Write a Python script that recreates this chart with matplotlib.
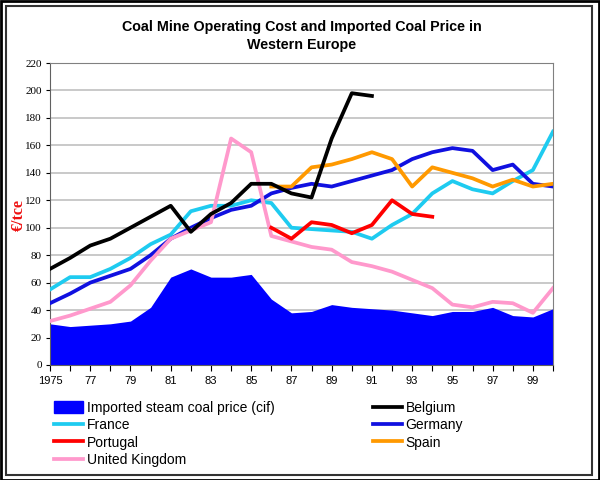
import matplotlib
matplotlib.use("Agg")
import matplotlib.pyplot as plt
from matplotlib.patches import Rectangle

years = list(range(1975, 2001))
imported = [30, 28, 29, 30, 32, 42, 64, 70, 64, 64, 66, 48, 38, 39, 44, 42, 41, 40, 38, 36, 39, 39, 42, 36, 35, 41]

belgium_years = list(range(1975, 1992))
belgium = [70, 78, 87, 92, 100, 108, 116, 97, 110, 118, 132, 132, 125, 122, 165, 198, 196]

france = [55, 64, 64, 70, 78, 88, 95, 112, 116, 116, 120, 118, 100, 99, 98, 97, 92, 102, 110, 125, 134, 128, 125, 134, 142, 170]

germany = [45, 52, 60, 65, 70, 80, 92, 100, 107, 113, 116, 125, 129, 132, 130, 134, 138, 142, 150, 155, 158, 156, 142, 146, 132, 130]

portugal_years = list(range(1986, 1995))
portugal = [100, 92, 104, 102, 96, 102, 120, 110, 108]

spain_years = list(range(1986, 2001))
spain = [130, 130, 144, 146, 150, 155, 150, 130, 144, 140, 136, 130, 135, 130, 132]

uk = [32, 36, 41, 46, 58, 76, 92, 98, 104, 165, 155, 94, 90, 86, 84, 75, 72, 68, 62, 56, 44, 42, 46, 45, 38, 56]

xtick_years = [1975, 1977, 1979, 1981, 1983, 1985, 1987, 1989, 1991, 1993, 1995, 1997, 1999]
xtick_labels = ["1975", "77", "79", "81", "83", "85", "87", "89", "91", "93", "95", "97", "99"]

fig = plt.figure(figsize=(6, 4.8), dpi=100)
ax = fig.add_axes([50/600, 1-365/480, (553-50)/600, (365-63)/480])

lw = 2.7
ax.fill_between(years, imported, 0, color="#0000FF", lw=0, zorder=2)
h_fr, = ax.plot(years, france, color="#1ECBF0", lw=lw, label="France", zorder=3)
h_ge, = ax.plot(years, germany, color="#1010E0", lw=lw, label="Germany", zorder=3)
h_uk, = ax.plot(years, uk, color="#FF99CC", lw=lw, label="United Kingdom", zorder=3)
h_sp, = ax.plot(spain_years, spain, color="#FF9900", lw=lw, label="Spain", zorder=4)
h_pt, = ax.plot(portugal_years, portugal, color="#FF0000", lw=lw, label="Portugal", zorder=4)
h_be, = ax.plot(belgium_years, belgium, color="black", lw=lw, label="Belgium", zorder=5)

ax.set_xlim(1975, 2000)
ax.set_ylim(0, 220)
ax.set_yticks(range(0, 221, 20))
ax.set_xticks(xtick_years)
ax.set_xticklabels(xtick_labels, fontfamily="Liberation Sans", fontsize=8)
ax.set_xticks(years, minor=True)
for lab in ax.get_yticklabels():
    lab.set_fontfamily("Liberation Serif")
    lab.set_fontsize(8)
ax.tick_params(axis="y", length=3, width=0.8, pad=3)
ax.tick_params(axis="x", which="both", length=4, width=0.8, pad=4)
ax.yaxis.grid(True, color="#BBBBBB", lw=1.1, zorder=0)
ax.set_axisbelow(True)
for s in ["top", "right"]:
    ax.spines[s].set_color("#808080")
ax.spines["left"].set_color("#606060")
ax.spines["bottom"].set_color("#606060")

fig.text(0.503, 1-27/480, "Coal Mine Operating Cost and Imported Coal Price in",
         ha="center", va="center", fontsize=10.3, fontweight="bold", fontfamily="Liberation Sans")
fig.text(0.503, 1-45/480, "Western Europe",
         ha="center", va="center", fontsize=10.3, fontweight="bold", fontfamily="Liberation Sans")
fig.text(19/600, 1-215/480, "€/tce", rotation=90, ha="center", va="center",
         color="#EE1111", fontsize=11.5, fontweight="bold", fontfamily="Liberation Serif")

area_handle = Rectangle((0, 0), 1, 1, color="#0000FF")
handles = [area_handle, h_fr, h_pt, h_uk, h_be, h_ge, h_sp]
labels = ["Imported steam coal price (cif)", "France", "Portugal", "United Kingdom", "Belgium", "Germany", "Spain"]
fig.legend(handles, labels, loc="upper left", bbox_to_anchor=(54/600, 1-401/480), ncol=2,
           frameon=False, prop={"family": "Liberation Sans", "size": 10}, handlelength=2.1,
           handletextpad=0.25, labelspacing=0.24, columnspacing=7.1, borderpad=0, borderaxespad=0,
           handleheight=0.9)

fig.add_artist(Rectangle((6/600, 5/480), 586/600, 469/480, transform=fig.transFigure,
                         fill=False, edgecolor="#333333", lw=1.5))
fig.add_artist(Rectangle((0.5/600, 0.5/480), 598.5/600, 478.5/480, transform=fig.transFigure,
                         fill=False, edgecolor="black", lw=2))

fig.savefig("out.png", dpi=100)
